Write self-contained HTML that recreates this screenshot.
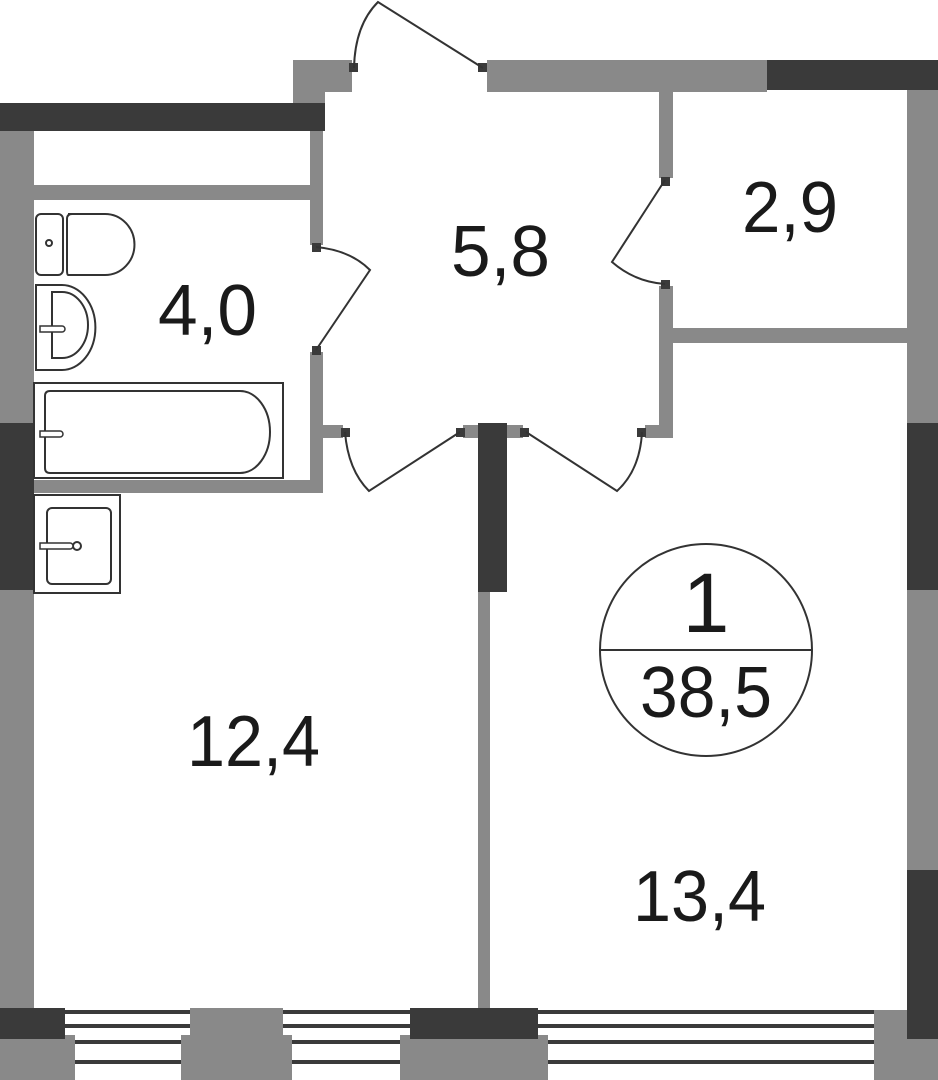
<!DOCTYPE html>
<html><head><meta charset="utf-8"><style>html,body{margin:0;padding:0;background:#fff}svg{display:block}</style></head>
<body>
<svg width="938" height="1080" viewBox="0 0 938 1080" xmlns="http://www.w3.org/2000/svg" font-family="Liberation Sans, sans-serif">
<g fill="#898989">
  <!-- left wall -->
  <rect x="0" y="131" width="34" height="877"/>
  <!-- stubs top -->
  <rect x="293" y="60" width="32" height="43"/>
  <rect x="325" y="60" width="27" height="32"/>
  <!-- top wall gray -->
  <rect x="487" y="60" width="280" height="32"/>
  <!-- right wall -->
  <rect x="907" y="90" width="31" height="990"/>
  <!-- bathroom walls -->
  <rect x="310" y="131" width="13" height="114"/>
  <rect x="310" y="352" width="13" height="141"/>
  <rect x="34" y="185" width="276" height="15"/>
  <rect x="34" y="480" width="289" height="13"/>
  <rect x="323" y="425" width="20" height="13"/>
  <!-- partitions right -->
  <rect x="659" y="92" width="14" height="86"/>
  <rect x="659" y="286" width="14" height="152"/>
  <rect x="645" y="425" width="28" height="13"/>
  <rect x="673" y="328" width="234" height="15"/>
  <rect x="463" y="425" width="15" height="13"/>
  <rect x="507" y="425" width="16" height="13"/>
  <!-- divider -->
  <rect x="478" y="590" width="12" height="420"/>
  <!-- bottom blocks -->
  <rect x="0" y="1035" width="75" height="45"/>
  <rect x="190" y="1008" width="93" height="30"/>
  <rect x="181" y="1035" width="111" height="45"/>
  <rect x="400" y="1035" width="148" height="45"/>
  <rect x="874" y="1010" width="64" height="70"/>
</g>
<g fill="#3a3a3a">
  <rect x="0" y="103" width="325" height="28"/>
  <rect x="767" y="60" width="171" height="30"/>
  <rect x="0" y="423" width="34" height="167"/>
  <rect x="907" y="423" width="31" height="167"/>
  <rect x="907" y="870" width="31" height="169"/>
  <rect x="478" y="423" width="29" height="169"/>
  <rect x="0" y="1008" width="65" height="31"/>
  <rect x="410" y="1008" width="128" height="31"/>
  <!-- window lines -->
  <rect x="65" y="1010" width="125" height="4"/><rect x="65" y="1024" width="125" height="4"/>
  <rect x="283" y="1010" width="127" height="4"/><rect x="283" y="1024" width="127" height="4"/>
  <rect x="538" y="1010" width="336" height="4"/><rect x="538" y="1024" width="336" height="4"/>
  <rect x="75" y="1040" width="106" height="4"/><rect x="75" y="1060" width="106" height="4"/>
  <rect x="292" y="1040" width="108" height="4"/><rect x="292" y="1060" width="108" height="4"/>
  <rect x="548" y="1040" width="326" height="4"/><rect x="548" y="1060" width="326" height="4"/>
  <!-- hinge squares -->
  <rect x="349" y="63" width="9" height="9"/>
  <rect x="478" y="63" width="9" height="9"/>
  <rect x="312" y="243" width="9" height="9"/>
  <rect x="312" y="346" width="9" height="9"/>
  <rect x="341" y="428" width="9" height="9"/>
  <rect x="456" y="428" width="9" height="9"/>
  <rect x="520" y="428" width="9" height="9"/>
  <rect x="637" y="428" width="9" height="9"/>
  <rect x="661" y="177" width="9" height="9"/>
  <rect x="661" y="280" width="9" height="9"/>
</g>
<g fill="none" stroke="#333" stroke-width="2">
  <!-- entrance door -->
  <path d="M354,68 Q355,25 378,2 L483,68"/>
  <!-- bath door -->
  <path d="M316,247 Q350,250 370,270 L316,350"/>
  <!-- room left door -->
  <path d="M345,432 Q348,470 369,491 L460,432"/>
  <!-- room right door -->
  <path d="M642,432 Q640,470 617,491 L526,432"/>
  <!-- closet door -->
  <path d="M665,284 Q635,282 612,262 L665,180"/>
  <!-- circle -->
  <circle cx="706" cy="650" r="106"/>
  <line x1="600" y1="650" x2="812" y2="650"/>
</g>
<g fill="#fff" stroke="#333" stroke-width="2">
  <!-- toilet -->
  <rect x="36" y="214" width="27" height="61" rx="5"/>
  <path d="M68,214 H105 A29,30 0 0 1 105,275 H68 Q67,275 67,270 V219 Q67,214 72,214 Z"/>
  <circle cx="49" cy="243" r="3"/>
  <!-- sink -->
  <path d="M36,285 H62 A33,42 0 0 1 62,370 H36 Z"/>
  <path d="M52,292 H62 A26,33 0 0 1 62,358 H52 Z"/>
  <!-- bath -->
  <rect x="34" y="383" width="249" height="95"/>
  <path d="M50,391 H240 A30,41 0 0 1 240,473 H50 Q45,473 45,468 V396 Q45,391 50,391 Z"/>
  <!-- small sink -->
  <rect x="34" y="495" width="86" height="98"/>
  <rect x="47" y="508" width="64" height="76" rx="5"/>
  <circle cx="77" cy="546" r="4"/>
</g>
<g fill="#fff" stroke="#333" stroke-width="1.5">
  <path d="M40,326 h22 a3,3 0 0 1 0,6 h-22 z"/>
  <path d="M40,431 h20 a3,3 0 0 1 0,6 h-20 z"/>
  <path d="M40,543 h30 a3,3 0 0 1 0,6 h-30 z"/>
</g>
<g fill="#1a1a1a" font-size="72">
  <text x="158" y="335" textLength="99" lengthAdjust="spacingAndGlyphs">4,0</text>
  <text x="451" y="276" textLength="99" lengthAdjust="spacingAndGlyphs">5,8</text>
  <text x="742" y="232" textLength="96" lengthAdjust="spacingAndGlyphs">2,9</text>
  <text x="187" y="766" textLength="133" lengthAdjust="spacingAndGlyphs">12,4</text>
  <text x="633" y="921" textLength="133" lengthAdjust="spacingAndGlyphs">13,4</text>
  <text x="706" y="632" font-size="84" text-anchor="middle">1</text>
  <text x="640" y="717" font-size="72" textLength="132" lengthAdjust="spacingAndGlyphs">38,5</text>
</g>
</svg>
</body></html>
